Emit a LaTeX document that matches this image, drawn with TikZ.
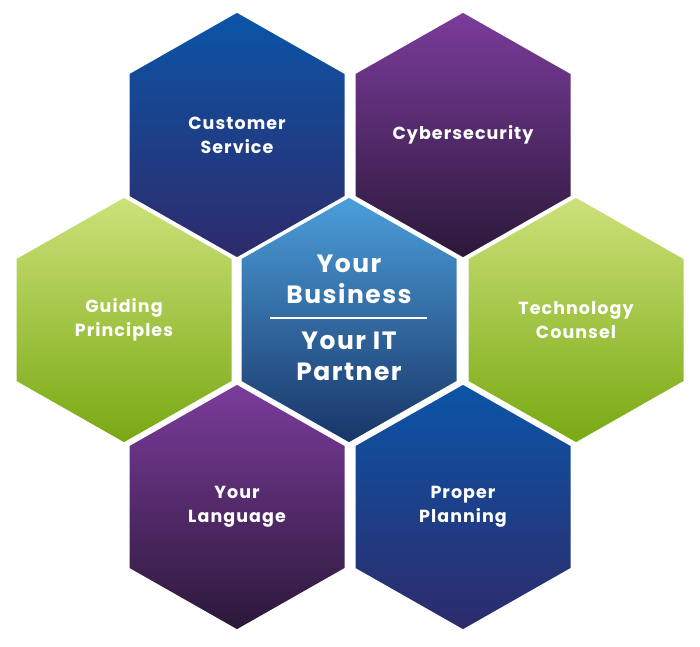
\documentclass[tikz,border=0pt]{standalone}
\usepackage{fontspec}
\setmainfont{Poppins}[LetterSpace=6]
\begin{document}
\begin{tikzpicture}[x=1pt,y=-1pt]
\useasboundingbox (0,0) rectangle (700,646);
\definecolor{bluetop}{HTML}{0B55A8}\definecolor{bluebot}{HTML}{2E2A6A}
\definecolor{purtop}{HTML}{7C3C9C}\definecolor{purbot}{HTML}{2A1838}
\definecolor{grntop}{HTML}{CDE27A}\definecolor{grnbot}{HTML}{78A812}
\definecolor{cntop}{HTML}{4C9FDC}\definecolor{cnbot}{HTML}{183466}
\tikzset{
 lbl/.style={text=white,font=\bfseries\fontsize{17.5}{24}\selectfont,align=center},
 clbl/.style={text=white,font=\bfseries\fontsize{25}{31}\selectfont,align=center},
}
\newcommand{\hexa}[5]{% name, x, y, topcolor, botcolor
 \path[top color=#4,bottom color=#5,draw=white,line width=3pt]
  (#2,#3-124) -- (#2+109,#3-62) -- (#2+109,#3+62) -- (#2,#3+124) -- (#2-109,#3+62) -- (#2-109,#3-62) -- cycle;
 \coordinate (#1) at (#2,#3);
}
\hexa{cs}{237}{135}{bluetop}{bluebot}
\hexa{cy}{463}{135}{purtop}{purbot}
\hexa{gp}{124}{320}{grntop}{grnbot}
\hexa{tc}{576}{320}{grntop}{grnbot}
\hexa{yl}{237}{507}{purtop}{purbot}
\hexa{pp}{463}{507}{bluetop}{bluebot}
\hexa{ce}{349}{320}{cntop}{cnbot}
\node[lbl] (t1) at (cs) {Customer\\Service};
\node[lbl] (t2) at (cy) {Cybersecurity};
\node[lbl] (t3) at (gp) {Guiding\\Principles};
\node[lbl] (t4) at (tc) {Technology\\Counsel};
\node[lbl] (t5) at (yl) {Your\\Language};
\node[lbl] (t6) at (pp) {Proper\\Planning};
\node[clbl] (c1) at (349,279) {Your\\Business};
\node[clbl] (c2) at (349,356) {Your IT\\Partner};
\draw[white,line width=1.5pt] (270,318) -- (427,318);
\end{tikzpicture}
\end{document}
